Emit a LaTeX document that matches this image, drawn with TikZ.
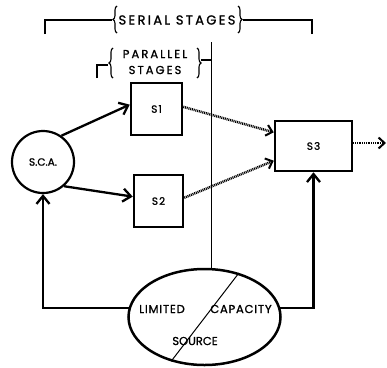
\documentclass[tikz,border=0pt]{standalone}
\usepackage{fontspec}
\setmainfont{Poppins}[FakeBold=1.2]
\newfontfamily\spc[LetterSpace=18,FakeBold=1.2]{Poppins}
\newfontfamily\spb[LetterSpace=10,FakeBold=1.2]{Poppins}
\newfontfamily\spe[LetterSpace=7,FakeBold=1.2]{Poppins}
\usetikzlibrary{arrows.meta,shapes.geometric,calc,decorations.pathreplacing}
\begin{document}
\begin{tikzpicture}[x=1pt,y=-1pt,
  box/.style={draw,line width=2.5pt,rectangle,inner sep=0pt,font=\fontsize{10.5}{11}\selectfont\spb},
  flow/.style={line width=2.3pt,-{Straight Barb[length=8pt,width=13pt,line width=2.3pt]}},
  dotflow/.style={line width=2.5pt,dash pattern=on 1pt off 0.8pt,-{Straight Barb[length=6pt,width=11pt,line width=2pt]}},
  bracket/.style={line width=1.3pt},
  brc/.style={line width=1.1pt,decorate,decoration={brace,amplitude=4pt}},
  lbl/.style={font=\fontsize{11.5}{12}\selectfont\spc,inner sep=0pt},
  ell/.style={font=\fontsize{11.5}{12}\selectfont\spe,inner sep=0pt},
  thin/.style={line width=0.9pt}]
\useasboundingbox (0,0) rectangle (387,367);
% serial stages bracket
\node[lbl,font=\fontsize{13}{14}\selectfont\spc] (serial) at (177,20) {SERIAL STAGES};
\coordinate (sl1) at (45,34); \coordinate (sl2) at (45,20); \coordinate (sl3) at (112,20);
\coordinate (sr1) at (312,34); \coordinate (sr2) at (312,20); \coordinate (sr3) at (243,20);
\draw[bracket] (sl1) -- (sl2) -- (sl3);
\draw[bracket] (sr1) -- (sr2) -- (sr3);
\draw[brc] (117,33) -- (117,6);
\draw[brc] (238,6) -- (238,33);
% parallel stages bracket
\node[lbl] (par1) at (155,54) {PARALLEL};
\node[lbl] (par2) at (155,70) {STAGES};
\coordinate (pl1) at (97,78); \coordinate (pl2) at (97,65); \coordinate (pl3) at (108,65);
\draw[bracket] (pl1) -- (pl2) -- (pl3);
\draw[brc] (113,78) -- (113,48);
\draw[brc] (197,48) -- (197,78);
\coordinate (pr1) at (201,60); \coordinate (vt) at (211,42);
\draw[bracket] (pr1) -- (211,60);
% nodes
\node[draw,circle,line width=2.2pt,minimum size=62pt,inner sep=0pt,font=\fontsize{10.5}{11}\selectfont] (sca) at (43,162) {S.C.A.};
\node[box,minimum width=51pt,minimum height=52pt] (s1) at (156.5,109) {S1};
\node[box,minimum width=49pt,minimum height=52pt] (s2) at (158.5,201) {S2};
\node[box,minimum width=77pt,minimum height=50pt] (s3) at (313.5,146) {S3};
\node[draw,ellipse,line width=2.5pt,minimum width=152pt,minimum height=96pt,inner sep=0pt] (lcs) at (204.5,317) {};
\draw[thin] (vt) -- (lcs.north -| vt);
% text in ellipse
\draw[line width=1pt] (lcs.-127) -- (lcs.52);
\node[ell] (lim) at (162,309) {LIMITED};
\node[ell] (cap) at (241,309) {CAPACITY};
\node[ell,font=\fontsize{11.5}{12}\selectfont] (src) at (195,341) {SOURCE};
% connectors
\draw[flow] (sca.55) -- ($(s1.north west)!0.42!(s1.south west)$);
\draw[flow] (sca.-49) -- ($(s2.north west)!0.42!(s2.south west)$);
\draw[dotflow] ($(s1.north east)!0.46!(s1.south east)$) -- ($(s3.north west)!0.24!(s3.south west)$);
\draw[dotflow] ($(s2.north east)!0.44!(s2.south east)$) -- ($(s3.north west)!0.78!(s3.south west)$);
\coordinate (out) at (386,143);
\draw[dotflow] (s3.east |- out) -- (out);
\draw[flow] (lcs.173) -| (sca);
\draw[flow] (lcs.7) -| (s3);
\end{tikzpicture}
\end{document}
